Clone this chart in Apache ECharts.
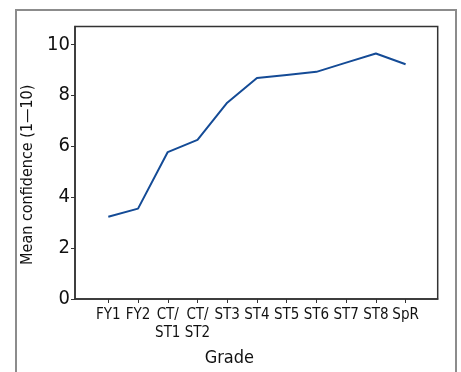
<!DOCTYPE html>
<html>
<head>
<meta charset="utf-8">
<script src="https://cdn.jsdelivr.net/npm/echarts@6/dist/echarts.min.js"></script>
<style>
    html,body{margin:0;padding:0;background:#fff;}
    #chart{width:461px;height:372px;}
</style>
</head>
<body>
<div id="chart"></div>
<script>
    // grades along the x axis
    const grades=['FY1','FY2','CT/\nST1','CT/\nST2','ST3','ST4','ST5','ST6','ST7','ST8','SpR']
    // mean confidence per grade (1-10)
    const confidence=[3.23,3.55,5.77,6.25,7.71,8.68,8.80,8.92,9.28,9.64,9.22]
    const yTicks=[0,2,4,6,8,10]

    const font='"DejaVu Sans Condensed","Liberation Sans Narrow",sans-serif'
    const pos=grades.map((g,i)=>i)

    const mychart=echarts.init(document.getElementById('chart'))
    mychart.setOption({
        animation:false,
        graphic:[
            {
                type:'rect',
                shape:{x:16,y:10,width:440,height:380},
                style:{fill:'none',stroke:'#8c8c8c',lineWidth:2}
            }
        ],
        grid:{
            left:75,
            top:26.5,
            width:362.7,
            height:273.5,
            show:true,
            borderColor:'#333',
            borderWidth:1.5
        },
        xAxis:{
            type:'value',
            min:-1.12,
            max:11.08,
            name:'Grade',
            nameLocation:'middle',
            nameGap:50,
            nameTextStyle:{color:'#111',fontSize:18,fontFamily:font,padding:[0,54,0,0]},
            splitLine:{show:false},
            axisLine:{show:true,onZero:false,lineStyle:{color:'#333',width:1.5}},
            axisTick:{show:true,length:4,customValues:pos,lineStyle:{color:'#333'}},
            axisLabel:{
                customValues:pos,
                color:'#111',
                fontSize:15,
                fontFamily:font,
                lineHeight:18,
                margin:7,
                formatter:v=>grades[Math.round(v)]
            }
        },
        yAxis:{
            type:'value',
            min:0,
            max:10.7,
            name:'Mean confidence (1\u201410)',
            nameLocation:'middle',
            nameGap:38,
            nameTextStyle:{color:'#111',fontSize:16,fontFamily:font,padding:[0,24,0,0]},
            splitLine:{show:false},
            axisLine:{show:true,onZero:false,lineStyle:{color:'#333',width:1.5}},
            axisTick:{show:true,length:4,customValues:yTicks,lineStyle:{color:'#333'}},
            axisLabel:{
                customValues:yTicks,
                color:'#111',
                fontSize:20,
                fontFamily:font,
                margin:5
            }
        },
        series:[
            {
                type:'line',
                data:confidence.map((v,i)=>[pos[i],v]),
                showSymbol:false,
                lineStyle:{color:'#144b96',width:2}
            }
        ]
    })
</script>
</body>
</html>
